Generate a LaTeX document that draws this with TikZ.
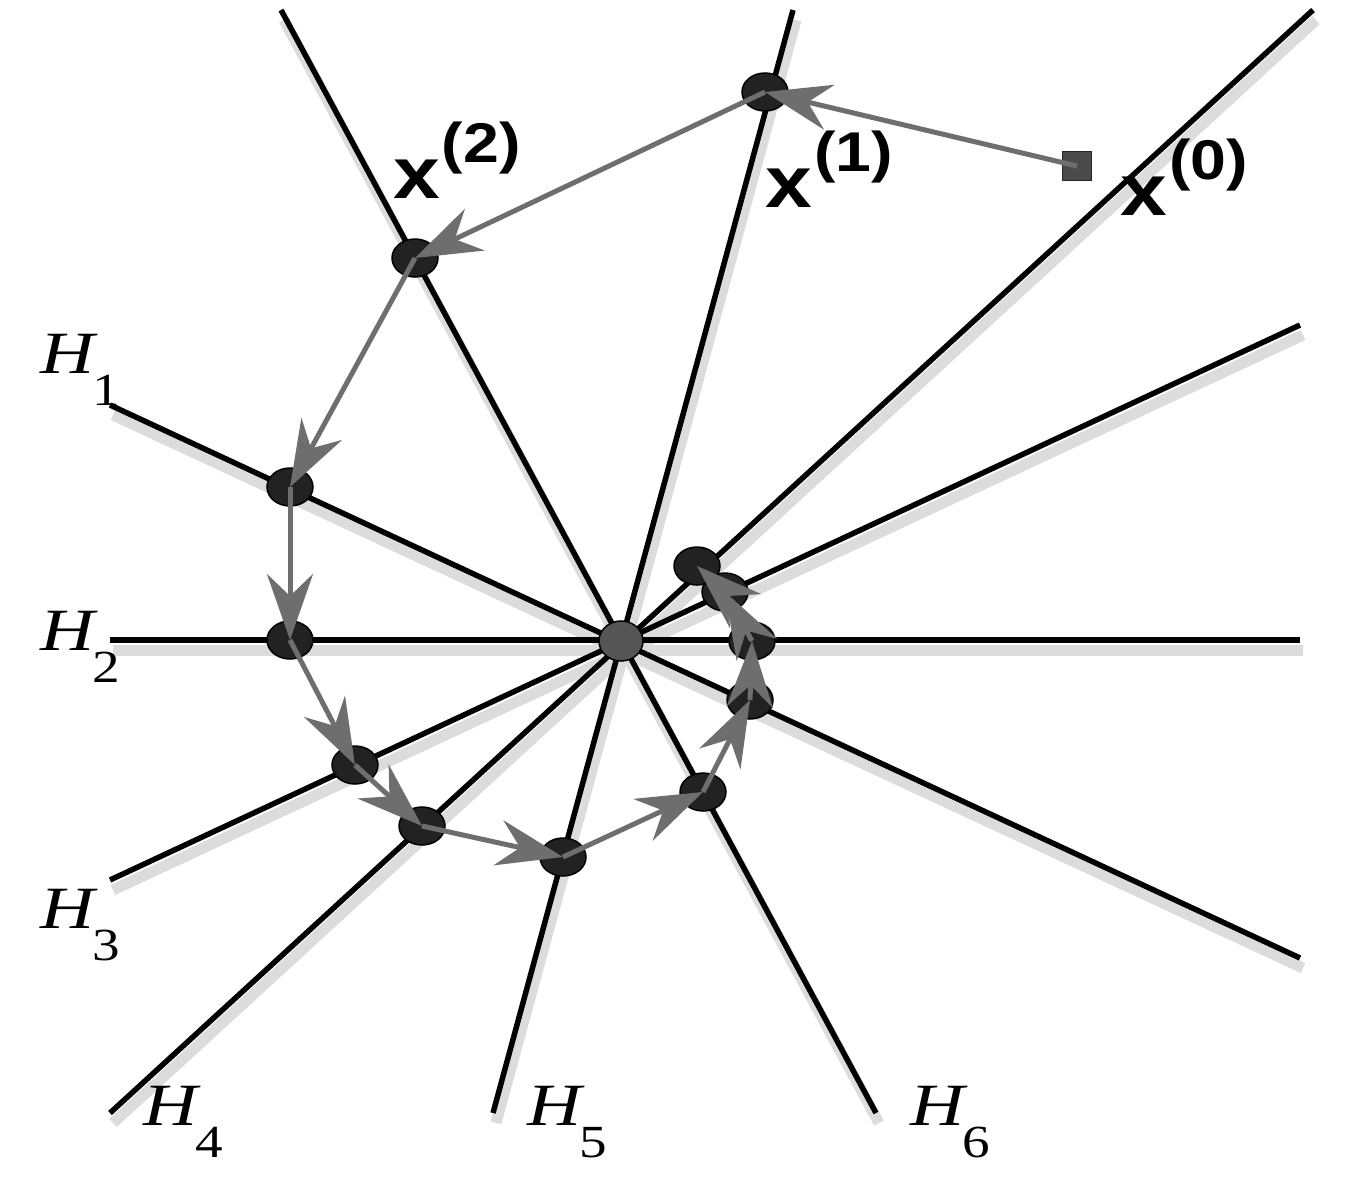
\documentclass[tikz,border=0pt]{standalone}
\usepackage{fontspec}
\setmainfont{Liberation Serif}
\newfontfamily\labsans{Liberation Sans}
\usetikzlibrary{arrows.meta,shapes.geometric}
\definecolor{ptfill}{HTML}{222222}
\definecolor{arrgray}{HTML}{6E6E6E}
\definecolor{shadowgray}{HTML}{DCDCDC}
\definecolor{ctrfill}{HTML}{555555}
\definecolor{sqfill}{HTML}{4A4A4A}
\newcommand{\hyplab}[1]{\scalebox{1.25}[1]{\fontsize{60}{60}\selectfont\itshape H}\hspace{-2pt}\raisebox{-32pt}{\scalebox{1.2}[1]{\fontsize{46}{46}\selectfont #1}}}
\newcommand{\iterlab}[1]{\scalebox{1.15}[1]{\labsans\bfseries\fontsize{73}{73}\selectfont x\hspace{2pt}\raisebox{36pt}{\fontsize{56}{56}\selectfont(#1)}}}
\tikzset{
  shadowline/.style={line width=11pt, shadowgray},
  hline/.style={line width=5.5pt, black},
  pt/.style={ellipse, draw=black, line width=1.5pt, fill=ptfill, minimum width=46pt, minimum height=38pt, inner sep=0pt},
  iter/.style={line width=5pt, arrgray, -{Stealth[length=66pt, width=46pt, inset=22pt]}},
  lab/.style={anchor=base west, inner sep=0pt, outer sep=0pt}
}
\begin{document}
\begin{tikzpicture}[x=1pt,y=-1pt]
\useasboundingbox (0,0) rectangle (1367,1181);
% line end points
\coordinate (h1a) at (110,405);  \coordinate (h1b) at (1300,958);
\coordinate (h2a) at (110,640);  \coordinate (h2b) at (1300,640);
\coordinate (h3a) at (110,880);  \coordinate (h3b) at (1300,325);
\coordinate (h4a) at (110,1113); \coordinate (h4b) at (1313,10);
\coordinate (h5a) at (493,1113); \coordinate (h5b) at (793,10);
\coordinate (h6a) at (876,1113); \coordinate (h6b) at (281,10);
% shadows
\foreach \i in {1,...,6}{
  \draw[shadowline] ([shift={(3,10)}]h\i a) -- ([shift={(3,10)}]h\i b);
}
% hyperplanes
\foreach \i in {1,...,6}{
  \draw[hline] (h\i a) -- (h\i b);
}
% points
\node[draw=black!85, line width=1pt, fill=sqfill, minimum size=29pt, inner sep=0pt] (p0) at (1077,166) {};
\node[pt] (p1) at (765,92) {};
\node[pt] (p2) at (415,258) {};
\node[pt] (p3) at (290,487) {};
\node[pt] (p4) at (290,640) {};
\node[pt] (p5) at (355,765) {};
\node[pt] (p6) at (422,826) {};
\node[pt] (p7) at (563,857) {};
\node[pt] (p8) at (703,792) {};
\node[pt] (p9) at (750,700) {};
\node[pt] (p10) at (752,641) {};
\node[pt] (p11) at (725,592) {};
\node[pt] (p12) at (697,566) {};
\node[pt, fill=ctrfill, minimum width=44pt, minimum height=40pt] (c) at (621,641) {};
% iterations
\foreach \a/\b in {p0/p1,p1/p2,p2/p3,p3/p4,p4/p5,p5/p6,p6/p7,p7/p8,p8/p9,p9/p10,p10/p11,p11/p12}{
  \draw[iter] (\a.center) -- (\b.center);
}
% labels
\node[lab] (l1) at (40,373) {\hyplab{1}};
\node[lab] (l2) at (40,650) {\hyplab{2}};
\node[lab] (l3) at (40,928) {\hyplab{3}};
\node[lab] (l4) at (143,1125) {\hyplab{4}};
\node[lab] (l5) at (527,1125) {\hyplab{5}};
\node[lab] (l6) at (910,1125) {\hyplab{6}};
\node[lab] (x2) at (393,198) {\iterlab{2}};
\node[lab] (x1) at (765,207) {\iterlab{1}};
\node[lab] (x0) at (1120,215) {\iterlab{0}};
\end{tikzpicture}
\end{document}
